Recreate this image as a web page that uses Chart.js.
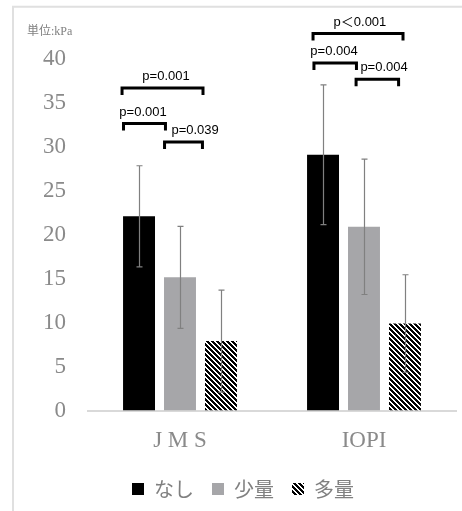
<!DOCTYPE html>
<html>
<head>
<meta charset="utf-8">
<script src="https://cdn.jsdelivr.net/npm/chart.js@4/dist/chart.umd.min.js"></script>
<style>
html,body{margin:0;padding:0;background:#fff;}
#wrap{width:462px;height:511px;position:relative;}
</style>
</head>
<body>
<div id="wrap"><canvas id="c" width="462" height="511"></canvas></div>
<script>
// ---- data ----
const categories = ["J M S", "IOPI"];
const seriesNames = ["なし", "少量", "多量"];
const meanNone  = [22.1, 29.1];
const meanSmall = [15.15, 20.9];
const meanLarge = [7.9, 9.9];
const sdNone  = [5.75, 7.95];
const sdSmall = [5.8, 7.7];
const sdLarge = [5.8, 5.55];
const yTicks = [0, 5, 10, 15, 20, 25, 30, 35, 40];
const unitLabel = "単位:kPa";
// significance brackets: from/to in category-index units, level in kPa
const bracketLabels = ["p=0.001", "p=0.001", "p=0.039", "p＜0.001", "p=0.004", "p=0.004"];
const bracketFrom   = [-0.315, -0.307, -0.084, 0.723, 0.728, 0.957];
const bracketTo     = [0.125, -0.079, 0.122, 1.212, 0.959, 1.188];
const bracketLevel  = [36.7, 32.65, 30.55, 42.9, 39.55, 37.7];
const bracketTextX  = [-0.076, -0.201, 0.082, 0.978, 0.837, 1.109];

// ---- hatch pattern ----
function makeHatch() {
  const N = 5;
  const cv = document.createElement('canvas');
  cv.width = N; cv.height = N;
  const cx = cv.getContext('2d');
  const img = cx.createImageData(N, N);
  for (let y = 0; y < N; y++) {
    for (let x = 0; x < N; x++) {
      const d = ((x - y) % N + N) % N;
      const v = d < 3 ? 0 : 255;
      const i = (y * N + x) * 4;
      img.data[i] = v; img.data[i+1] = v; img.data[i+2] = v; img.data[i+3] = 255;
    }
  }
  cx.putImageData(img, 0, 0);
  return document.getElementById('c').getContext('2d').createPattern(cv, 'repeat');
}
const hatch = makeHatch();

const sds = [sdNone, sdSmall, sdLarge];

const errorBarPlugin = {
  id: 'errbars',
  afterDatasetsDraw(chart) {
    const ctx = chart.ctx, ys = chart.scales.y;
    ctx.save();
    ctx.strokeStyle = '#808080';
    ctx.lineWidth = 1.2;
    chart.data.datasets.forEach((ds, di) => {
      const meta = chart.getDatasetMeta(di);
      meta.data.forEach((bar, i) => {
        const v = ds.data[i], s = sds[di][i];
        const x = Math.round(bar.x) + 0.5;
        const yh = ys.getPixelForValue(v + s), yl = ys.getPixelForValue(v - s);
        ctx.beginPath();
        ctx.moveTo(x, yh); ctx.lineTo(x, yl);
        ctx.moveTo(x - 3, yh); ctx.lineTo(x + 3, yh);
        ctx.moveTo(x - 3, yl); ctx.lineTo(x + 3, yl);
        ctx.stroke();
      });
    });
    ctx.restore();
  }
};

const bracketPlugin = {
  id: 'brackets',
  afterDraw(chart) {
    const ctx = chart.ctx, xs = chart.scales.x, ys = chart.scales.y;
    ctx.save();
    ctx.strokeStyle = '#000';
    ctx.lineWidth = 3;
    ctx.lineJoin = 'miter';
    ctx.fillStyle = '#000';
    ctx.font = "13px 'Liberation Sans', 'Noto Sans CJK JP', sans-serif";
    ctx.textAlign = 'center';
    ctx.textBaseline = 'alphabetic';
    for (let k = 0; k < bracketLabels.length; k++) {
      const x1 = xs.getPixelForValue(bracketFrom[k]);
      const x2 = xs.getPixelForValue(bracketTo[k]);
      const y = ys.getPixelForValue(bracketLevel[k]);
      ctx.beginPath();
      ctx.moveTo(x1, y + 7); ctx.lineTo(x1, y); ctx.lineTo(x2, y); ctx.lineTo(x2, y + 7);
      ctx.stroke();
      ctx.fillText(bracketLabels[k], xs.getPixelForValue(bracketTextX[k]), y - 8);
    }
    // frame and unit label
    ctx.strokeStyle = '#e0e0e0';
    ctx.lineWidth = 2;
    ctx.beginPath();
    ctx.moveTo(13, 511); ctx.lineTo(13, 6.7); ctx.lineTo(462, 6.7);
    ctx.stroke();
    ctx.fillStyle = '#808080';
    ctx.textAlign = 'left';
    ctx.textBaseline = 'middle';
    ctx.font = "12px 'Liberation Serif', 'Noto Sans CJK JP', serif";
    ctx.fillText(unitLabel, 27, 32);
    ctx.restore();
  }
};

new Chart(document.getElementById('c'), {
  type: 'bar',
  data: {
    labels: categories,
    datasets: [
      { label: seriesNames[0], data: meanNone,  backgroundColor: '#000000', borderWidth: 0 },
      { label: seriesNames[1], data: meanSmall, backgroundColor: '#a6a6a9', borderWidth: 0 },
      { label: seriesNames[2], data: meanLarge, backgroundColor: hatch,     borderWidth: 0 }
    ]
  },
  options: {
    responsive: false,
    animation: false,
    devicePixelRatio: 1,
    layout: { padding: { left: 30, right: 6, top: 59, bottom: 2 } },
    datasets: { bar: { categoryPercentage: 0.668, barPercentage: 0.78 } },
    scales: {
      x: {
        grid: { display: false, drawTicks: false },
        border: { display: true, color: '#d9d9d9', width: 2 },
        ticks: { color: '#8a8a8a', padding: 17,
                 font: { family: "'Liberation Serif', serif", size: 23 } },
        afterFit(s) { s.height = 50.5; }
      },
      y: {
        min: 0, max: 40,
        afterBuildTicks(s) { s.ticks = yTicks.map(v => ({ value: v })); },
        grid: { display: false, drawTicks: false },
        border: { display: false },
        ticks: { color: '#8a8a8a', padding: 22,
                 font: { family: "'Liberation Serif', serif", size: 23 } },
        afterFit(s) { s.width = 58; }
      }
    },
    plugins: {
      legend: {
        position: 'bottom',
        labels: {
          boxWidth: 12, boxHeight: 12, padding: 18, color: '#808080',
          font: { family: "'Noto Sans CJK JP', sans-serif", size: 20 }
        }
      },
      tooltip: { enabled: false }
    }
  },
  plugins: [errorBarPlugin, bracketPlugin]
});
</script>
</body>
</html>
